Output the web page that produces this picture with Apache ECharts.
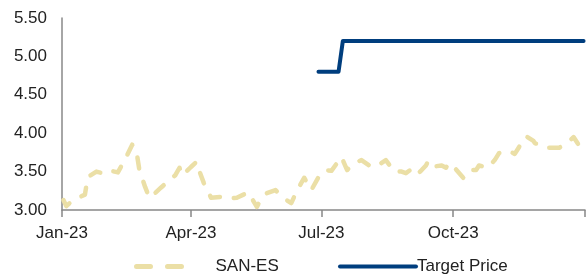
<!DOCTYPE html>
<html>
<head>
<meta charset="utf-8">
<script src="https://cdn.jsdelivr.net/npm/echarts@6/dist/echarts.min.js"></script>
<style>
  html, body { margin: 0; padding: 0; background: #fff; }
  #chart { width: 586px; height: 277px; }
</style>
</head>
<body>
<div id="chart"></div>
<script>
// SAN-ES share price
var sanDates = [
  '2023-01-02','2023-01-04','2023-01-08','2023-01-17','2023-01-19','2023-01-25','2023-01-29',
  '2023-02-02','2023-02-09','2023-02-14','2023-02-19','2023-02-22','2023-02-24','2023-02-28',
  '2023-03-03','2023-03-07','2023-03-11','2023-03-14','2023-03-17','2023-03-21','2023-03-24',
  '2023-03-26','2023-04-01','2023-04-05','2023-04-07','2023-04-10','2023-04-15','2023-04-22',
  '2023-04-28','2023-05-03','2023-05-11','2023-05-17','2023-05-20','2023-05-24','2023-05-30',
  '2023-06-01','2023-06-05','2023-06-10','2023-06-14','2023-06-19','2023-06-24','2023-06-30',
  '2023-07-04','2023-07-08','2023-07-15','2023-07-19','2023-07-24','2023-07-29','2023-08-05',
  '2023-08-11','2023-08-15','2023-08-21','2023-08-26','2023-08-29','2023-09-01','2023-09-05',
  '2023-09-09','2023-09-12','2023-09-14','2023-09-19','2023-09-23','2023-09-26','2023-09-28',
  '2023-10-02','2023-10-08','2023-10-12','2023-10-17','2023-10-19','2023-10-25','2023-10-30',
  '2023-11-02','2023-11-09','2023-11-13','2023-11-17','2023-11-21','2023-11-26','2023-11-27',
  '2023-12-02','2023-12-06','2023-12-14','2023-12-20','2023-12-24','2023-12-30','2023-12-31'
];
var sanValues = [
  3.13,3.05,3.12,3.20,3.43,3.50,3.48,
  3.52,3.49,3.66,3.85,3.76,3.52,3.30,
  3.16,3.22,3.29,3.34,3.40,3.45,3.55,
  3.45,3.56,3.63,3.50,3.35,3.16,3.17,
  3.15,3.16,3.23,3.04,3.15,3.22,3.26,
  3.22,3.15,3.09,3.25,3.42,3.26,3.46,
  3.52,3.51,3.69,3.52,3.61,3.65,3.56,
  3.60,3.65,3.50,3.50,3.48,3.52,3.45,
  3.52,3.58,3.65,3.57,3.58,3.55,3.61,
  3.55,3.42,3.52,3.52,3.58,3.55,3.65,
  3.74,3.77,3.73,3.85,3.96,3.90,3.87,
  3.84,3.81,3.81,3.88,3.95,3.78,3.78
];

// target price
var tpDates = ['2023-06-29','2023-07-13','2023-07-16','2023-12-31'];
var tpValues = [4.80, 4.80, 5.20, 5.20];

// x ticks: Jan, Apr, Jul, Oct, Jan
var tickDates = ['2023-01-01','2023-04-01','2023-07-01','2023-10-01','2024-01-01'];
var labelDates = ['2023-01-01','2023-04-01','2023-07-01','2023-10-01'];
var months = ['Jan','Feb','Mar','Apr','May','Jun','Jul','Aug','Sep','Oct','Nov','Dec'];

var base = Date.UTC(2023, 0, 1);
function dayOf(s) {
  var p = s.split('-');
  return Math.round((Date.UTC(+p[0], +p[1] - 1, +p[2]) - base) / 86400000);
}
function pairs(ds, vs) {
  return ds.map(function (d, i) { return [dayOf(d), vs[i]]; });
}

var font = 'Liberation Sans';
var sand = '#EBDFA6', navy = '#003E7E';
var chart = echarts.init(document.getElementById('chart'));
chart.setOption({
  animation: false,
  textStyle: { fontFamily: font },
  grid: { left: 62, right: 1, top: 18, bottom: 67, containLabel: false },
  legend: [
    {
      data: ['SAN-ES'], left: 129, top: 253, itemWidth: 60, itemHeight: 10,
      itemStyle: { opacity: 0 },
      lineStyle: { width: 5, type: [14, 17], cap: 'round', color: sand },
      textStyle: { fontSize: 17, color: '#222', padding: [0, 0, 0, 14], fontFamily: font }
    },
    {
      data: ['Target Price'], left: 333, top: 253, itemWidth: 76, itemHeight: 10, itemGap: 0,
      itemStyle: { opacity: 0 },
      lineStyle: { width: 4, cap: 'round', color: navy },
      textStyle: { fontSize: 17, color: '#222', padding: [0, 0, 0, -4], fontFamily: font }
    }
  ],
  xAxis: {
    type: 'value', min: 0, max: 365,
    splitLine: { show: false },
    axisLine: { lineStyle: { color: '#888', width: 1.5 } },
    axisTick: { show: true, length: 7, lineStyle: { color: '#888', width: 1.5 },
      customValues: tickDates.map(dayOf) },
    axisLabel: {
      customValues: labelDates.map(dayOf),
      fontSize: 17, color: '#222', margin: 15,
      formatter: function (v) {
        var d = new Date(base + v * 86400000);
        return months[d.getUTCMonth()] + '-' + String(d.getUTCFullYear()).slice(2);
      }
    }
  },
  yAxis: {
    type: 'value', min: 3, max: 5.5, interval: 0.5,
    splitLine: { show: false },
    axisLine: { show: true, lineStyle: { color: '#888', width: 1.5 } },
    axisTick: { show: false },
    axisLabel: { fontSize: 17, color: '#222', margin: 15,
      formatter: function (v) { return v.toFixed(2); } }
  },
  series: [
    {
      name: 'SAN-ES', type: 'line', showSymbol: false, symbol: 'none',
      data: pairs(sanDates, sanValues),
      itemStyle: { color: sand },
      lineStyle: { color: sand, width: 4.5, type: [11, 14], cap: 'round', join: 'round' }
    },
    {
      name: 'Target Price', type: 'line', showSymbol: false, symbol: 'none',
      data: pairs(tpDates, tpValues),
      itemStyle: { color: navy },
      lineStyle: { color: navy, width: 4, cap: 'round', join: 'round' }
    }
  ]
});
</script>
</body>
</html>
